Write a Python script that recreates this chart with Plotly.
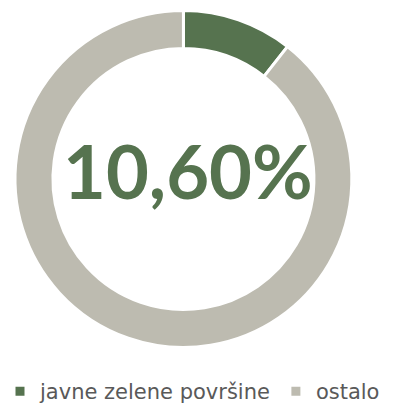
import plotly.graph_objects as go

labels = ["javne zelene površine", "ostalo"]
values = [10.6, 89.4]
colors = ["#56734f", "#bdbbb0"]
center_label = "10,60%"

fig = go.Figure(
    go.Pie(
        labels=labels,
        values=values,
        hole=0.775,
        sort=False,
        direction="clockwise",
        rotation=0,
        marker=dict(colors=colors, line=dict(color="white", width=3)),
        textinfo="none",
        hoverinfo="label+percent",
        domain=dict(x=[0.0377, 0.884], y=[0.155, 0.976]),
    )
)

fig.add_annotation(
    x=0.472, y=0.585, xref="paper", yref="paper",
    text="<b>" + center_label + "</b>",
    showarrow=False,
    font=dict(family="Lato", size=74, color="#56734f"),
)

fig.update_layout(
    width=398, height=412,
    margin=dict(l=0, r=0, t=0, b=0),
    paper_bgcolor="white",
    plot_bgcolor="white",
    showlegend=True,
    legend=dict(
        orientation="h",
        x=0.0, y=0.0, xanchor="left", yanchor="bottom",
        font=dict(family="DejaVu Sans", size=21, color="#595959"),
        traceorder="normal",
    ),
)

fig.write_html("out.html")
